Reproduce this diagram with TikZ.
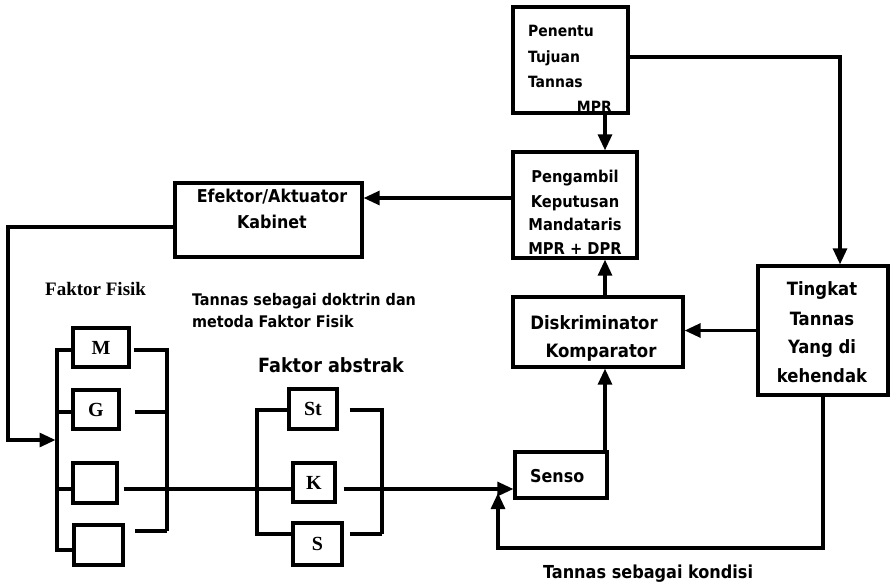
\documentclass[tikz,border=0pt]{standalone}
\usepackage{fontspec}
\setmainfont{DejaVu Sans Condensed}
\newfontfamily\tmsf{Liberation Serif}
\usetikzlibrary{arrows.meta}
\begin{document}
\begin{tikzpicture}[x=1pt,y=-1pt,
  ln/.style={line width=3.1pt},
  arr/.style={line width=3.1pt,-{Triangle[length=16pt,width=14pt]}},
  box/.style={draw,line width=3.3pt,inner sep=0pt},
  tx/.style={inner sep=0pt,font=\bfseries\fontsize{#1}{#1}\selectfont},
  lt/.style={inner sep=0pt,font=\tmsf\bfseries\fontsize{20pt}{20pt}\selectfont}]
\useasboundingbox (0,0) rectangle (890,583);
% boxes
\node[box,minimum width=115pt,minimum height=106pt] (pen) at (570.5,60) {};
\node[box,minimum width=124pt,minimum height=106pt] (amb) at (575,205) {};
\node[box,minimum width=187pt,minimum height=74pt] (efk) at (268.5,220) {};
\node[box,minimum width=170pt,minimum height=70pt] (dis) at (598,332) {};
\node[box,minimum width=130pt,minimum height=129pt] (tkt) at (823,330.5) {};
\node[box,minimum width=92pt,minimum height=46pt] (sen) at (561,475) {};
\node[box,lt,minimum width=56pt,minimum height=39pt] (bm) at (101,347.5) {M};
\node[box,lt,minimum width=46pt,minimum height=39pt] (bG) at (96,409.5) {G};
\node[box,lt,minimum width=44pt,minimum height=40pt] (b3) at (95,483) {};
\node[box,lt,minimum width=49pt,minimum height=40pt] (b4) at (98.5,545) {};
\node[box,lt,minimum width=48pt,minimum height=40pt] (bSt) at (313,409) {St};
\node[box,lt,minimum width=42pt,minimum height=39pt] (bK) at (314,482.5) {K};
\node[box,lt,minimum width=49pt,minimum height=42pt] (bS) at (317.5,544) {S};
% texts
\node[tx=15.5pt,anchor=base west] (p1) at (528,37) {Penentu};
\node[tx=15.5pt,anchor=base west] (p2) at (528,63) {Tujuan};
\node[tx=15.5pt,anchor=base west] (p3) at (528,88) {Tannas};
\node[tx=15.5pt,anchor=base east] (p4) at (612,112) {MPR};
\node[tx=16.3pt,anchor=base] (a1) at (575,182) {Pengambil};
\node[tx=16.3pt,anchor=base] (a2) at (575,207) {Keputusan};
\node[tx=16.3pt,anchor=base] (a3) at (575,230) {Mandataris};
\node[tx=16.3pt,anchor=base] (a4) at (575,254) {MPR + DPR};
\node[tx=17.7pt,anchor=base] (e1) at (272,202) {Efektor/Aktuator};
\node[tx=17.7pt,anchor=base] (e2) at (272,228) {Kabinet};
\node[tx=18.4pt,anchor=base] (d1) at (594,329) {Diskriminator};
\node[tx=18.4pt,anchor=base] (d2) at (601,357) {Komparator};
\node[tx=18.3pt,anchor=base] (k1) at (822,295) {Tingkat};
\node[tx=18.3pt,anchor=base] (k2) at (822,325) {Tannas};
\node[tx=18.3pt,anchor=base] (k3) at (822,353) {Yang di};
\node[tx=18.3pt,anchor=base] (k4) at (822,382) {kehendak};
\node[tx=17.7pt,anchor=base west] (s1) at (530,482) {Senso};
\node[inner sep=0pt,anchor=base west,font=\tmsf\bfseries\fontsize{19pt}{19pt}\selectfont] (ff) at (45,295) {Faktor Fisik};
\node[tx=16pt,anchor=base west] (t1) at (192,305) {Tannas sebagai doktrin dan};
\node[tx=16pt,anchor=base west] (t2) at (192,327) {metoda Faktor Fisik};
\node[tx=19.6pt,anchor=base west] (fa) at (258,372) {Faktor abstrak};
\node[tx=17.9pt,anchor=base west] (tk) at (543,578) {Tannas sebagai kondisi};
% helper coordinates
\coordinate (cx) at (605,0);
\coordinate (tA) at (840,0);
\coordinate (ay) at (0,198);
\coordinate (ey) at (0,227);
\coordinate (fb) at (8,440);
\coordinate (lbx) at (57,0);
\coordinate (rbx) at (167,0);
\coordinate (mlx) at (257,0);
\coordinate (mrx) at (382,0);
\coordinate (yM) at (0,350);
\coordinate (yG) at (0,412);
\coordinate (y3) at (0,489);
\coordinate (y4) at (0,550);
\coordinate (yR4) at (0,531);
\coordinate (ySt) at (0,410);
\coordinate (yS) at (0,534);
\coordinate (fbk) at (498,548);
\coordinate (fbe) at (498,493);
% connectors
\draw[arr] (pen.south -| cx) -- (amb.north -| cx);
\draw[arr] ([yshift=3pt]pen.east) -| (tkt.north -| tA);
\draw[arr] (amb.west |- ay) -- (efk.east |- ay);
\draw[arr] (efk.west |- ey) -| (fb) -- ([xshift=-1.5pt]lbx |- fb);
\draw[ln] (bm.west |- yM) -| (lbx |- y4) -- (b4.west |- y4);
\draw[ln] (lbx |- yG) -- (bG.west |- yG);
\draw[ln] (lbx |- y3) -- (b3.west |- y3);
\draw[ln,shorten <=3pt] (bm.east |- yM) -| (rbx |- yR4);
\draw[ln,shorten >=10pt] (rbx |- yR4) -- (b4.east |- yR4);
\draw[ln,shorten <=14pt] (bG.east |- yG) -- (rbx |- yG);
\draw[ln,shorten <=5pt] (b3.east |- y3) -- (bK.west |- y3);
\draw[ln] (bSt.west |- ySt) -| (mlx |- yS) -- (bS.west |- yS);
\draw[ln,shorten <=11pt] (bSt.east |- ySt) -| (mrx |- yS);
\draw[ln,shorten >=6pt] (mrx |- yS) -- (bS.east |- yS);
\draw[arr,shorten <=7pt] (bK.east |- y3) -- (sen.west |- y3);
\draw[arr] (sen.north -| cx) -- (dis.south -| cx);
\draw[arr] (dis.north -| cx) -- (amb.south -| cx);
\draw[arr] (tkt.west) -- (dis.east |- tkt.west);
\draw[arr] (tkt.south) |- (fbk) -- (fbe);
\end{tikzpicture}
\end{document}
